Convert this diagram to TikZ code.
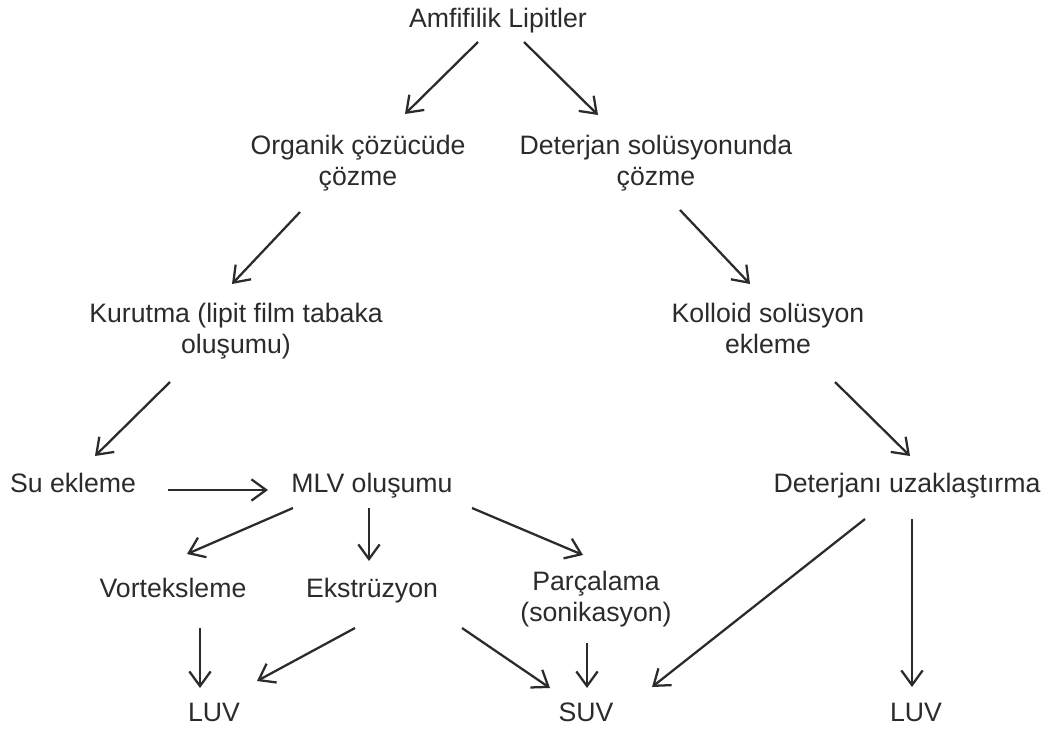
\documentclass[tikz,border=0pt]{standalone}
\usepackage{fontspec}
\setmainfont{Liberation Sans}
\usetikzlibrary{arrows.meta}
\definecolor{ink}{HTML}{2B2B2B}
\begin{document}
\begin{tikzpicture}[x=0.75pt,y=-0.75pt,
  lbl/.style={text=ink,font=\fontsize{20pt}{23pt}\selectfont,align=center,inner sep=0pt,anchor=base},
  arr/.style={draw=ink,line width=1.7pt,-{Straight Barb[length=11pt,width=16pt,line width=1.7pt]}}]
\useasboundingbox (0,0) rectangle (1050,729);
% nodes (base = last line baseline)
\node[lbl] (amf) at (498,27) {Amfifilik Lipitler};
\node[lbl] (org) at (358,185) {Organik çözücüde\\çözme};
\node[lbl] (det) at (656,185) {Deterjan solüsyonunda\\çözme};
\node[lbl] (kur) at (236,353) {Kurutma (lipit film tabaka\\oluşumu)};
\node[lbl] (kol) at (768,353) {Kolloid solüsyon\\ekleme};
\node[lbl] (su) at (73,492) {Su ekleme};
\node[lbl] (mlv) at (372,492) {MLV oluşumu};
\node[lbl] (dun) at (907,492) {Deterjanı uzaklaştırma};
\node[lbl] (vor) at (173,597) {Vorteksleme};
\node[lbl] (eks) at (372,597) {Ekstrüzyon};
\node[lbl] (par) at (596,621) {Parçalama\\(sonikasyon)};
\node[lbl] (luva) at (214,721) {LUV};
\node[lbl] (suv) at (586,721) {SUV};
\node[lbl] (luvb) at (916,721) {LUV};
% arrow end points
\coordinate (amf-o) at (478,42);  \coordinate (org-i) at (405,114);
\coordinate (amf-d) at (524,42);  \coordinate (det-i) at (598,115);
\coordinate (org-o) at (300,212); \coordinate (kur-i) at (232,284);
\coordinate (det-o) at (680,210); \coordinate (kol-i) at (750,284);
\coordinate (kur-o) at (170,382); \coordinate (su-i) at (95,456);
\coordinate (kol-o) at (835,382); \coordinate (dun-i) at (910,456);
\coordinate (su-o) at (168,490);  \coordinate (mlv-i) at (268,490);
\coordinate (mlv-v) at (293,508); \coordinate (vor-i) at (187,554);
\coordinate (mlv-e) at (369,508); \coordinate (eks-i) at (369,561);
\coordinate (mlv-p) at (472,508); \coordinate (par-i) at (583,555);
\coordinate (vor-o) at (200,628); \coordinate (luva-v) at (200,688);
\coordinate (eks-l) at (355,628); \coordinate (luva-e) at (257,681);
\coordinate (eks-s) at (462,628); \coordinate (suv-e) at (550,688);
\coordinate (par-o) at (587,643); \coordinate (suv-p) at (587,688);
\coordinate (dun-s) at (865,519); \coordinate (suv-d) at (652,687);
\coordinate (dun-l) at (912,519); \coordinate (luvb-d) at (912,687);
% connectors
\draw[arr] (amf-o) -- (org-i);
\draw[arr] (amf-d) -- (det-i);
\draw[arr] (org-o) -- (kur-i);
\draw[arr] (det-o) -- (kol-i);
\draw[arr] (kur-o) -- (su-i);
\draw[arr] (kol-o) -- (dun-i);
\draw[arr] (su-o) -- (mlv-i);
\draw[arr] (mlv-v) -- (vor-i);
\draw[arr] (mlv-e) -- (eks-i);
\draw[arr] (mlv-p) -- (par-i);
\draw[arr] (vor-o) -- (luva-v);
\draw[arr] (eks-l) -- (luva-e);
\draw[arr] (eks-s) -- (suv-e);
\draw[arr] (par-o) -- (suv-p);
\draw[arr] (dun-s) -- (suv-d);
\draw[arr] (dun-l) -- (luvb-d);
\end{tikzpicture}
\end{document}
